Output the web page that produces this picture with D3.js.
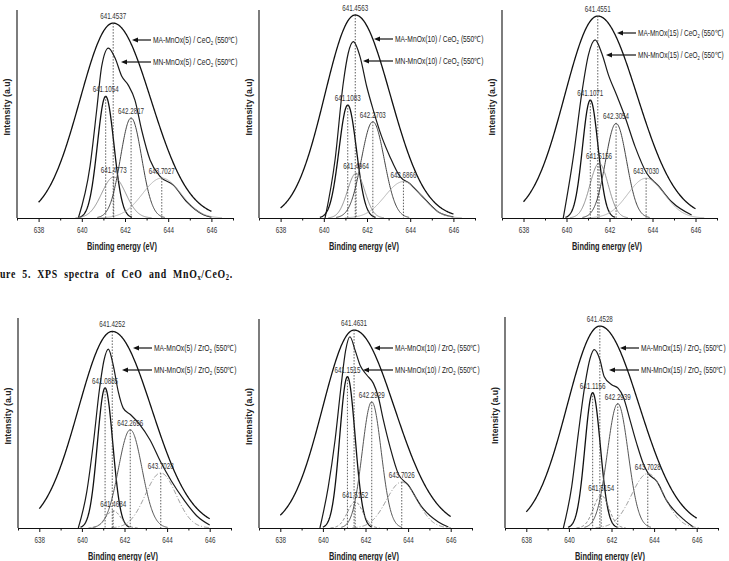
<!DOCTYPE html>
<html>
<head>
<meta charset="utf-8">
<script src="https://cdn.jsdelivr.net/npm/d3@7/dist/d3.min.js"></script>
<style>
  body { margin: 0; background: #fff; }
  svg { display: block; }
  text { font-family: "Liberation Sans", Arial, sans-serif; fill: #222; }
</style>
</head>
<body>
<svg id="chart" width="729" height="561"></svg>
<script>
// Sample names, one per panel (top row CeO2, bottom row ZrO2).
var loadings = ['5', '10', '15', '5', '10', '15'];
var supports = ['CeO', 'CeO', 'CeO', 'ZrO', 'ZrO', 'ZrO'];

// Binding energy axis.
var xDomain = [637, 647];
var majorTicks = [638, 640, 642, 644, 646];
var minorTicks = [637, 639, 641, 643, 645, 647];

// MA envelope: apex, height (% of axis), left / right width (sigma, eV).
var maCenter = [641.4537, 641.4563, 641.4551, 641.4252, 641.4631, 641.4528];
var maHeight = [93.7, 97.6, 97.1, 93.6, 94.7, 95.7];
var maSigmaLeft = [1.54, 1.41, 1.54, 1.59, 1.48, 1.535];
var maSigmaRight = [1.75, 1.62, 1.83, 1.85, 1.9, 1.85];

// MN envelope.
var mnEnergy = [
  [639.84, 640.38, 640.69, 640.92, 641.23, 641.54, 641.85, 642.15, 642.46, 642.77, 643.16, 643.62, 644.24, 644.86, 645.63, 646.0],
  [640.06, 640.52, 640.9, 641.13, 641.37, 641.68, 641.99, 642.29, 642.68, 643.06, 643.53, 643.99, 644.53, 645.3, 646.0],
  [639.85, 640.32, 640.71, 641.02, 641.33, 641.64, 641.95, 642.33, 642.72, 643.19, 643.73, 644.27, 644.89, 645.82],
  [639.83, 640.22, 640.54, 640.82, 641.04, 641.24, 641.47, 641.71, 641.94, 642.3, 642.7, 643.2, 643.7, 644.2, 644.8, 645.4, 646.0],
  [639.86, 640.25, 640.57, 640.85, 641.07, 641.27, 641.51, 641.74, 642.06, 642.37, 642.6, 642.84, 643.15, 643.54, 644.01, 644.64, 645.42, 645.89],
  [639.74, 640.13, 640.44, 640.76, 640.99, 641.19, 641.46, 641.66, 642.01, 642.32, 642.55, 642.87, 643.18, 643.49, 643.73, 644.12, 644.59, 645.45, 645.84]
];
var mnIntensity = [
  [0, 24.8, 51.9, 72.9, 81.7, 76.9, 68.1, 63.9, 56.7, 42.3, 27.9, 20.0, 15.8, 7.8, 1.6, 0.4],
  [0, 27.9, 64.8, 79.2, 84.8, 77.5, 63.1, 51.9, 39.1, 29.5, 19.9, 16.5, 10.7, 2.9, 0.5],
  [0, 29.5, 59.9, 78.4, 85.6, 79.2, 68.8, 59.1, 48.7, 34.3, 21.5, 15.5, 7.8, 1.4],
  [0, 16.7, 40.5, 65.7, 80.0, 85.2, 77.6, 64.8, 57.1, 53.8, 49.5, 41.9, 31.4, 22.4, 13.3, 5.7, 1.4],
  [0, 19.6, 42.0, 67.6, 85.1, 91.5, 85.1, 78.0, 73.2, 69.2, 62.8, 51.6, 38.8, 25.9, 20.5, 10.1, 2.9, 0.5],
  [0, 19.5, 44.6, 68.3, 80.2, 84.5, 79.6, 71.7, 67.9, 66.2, 62.2, 51.1, 40.1, 30.6, 25.8, 22.2, 13.0, 3.5, 0.5]
];

// Fitted components (Mn3+ low, Mn4+, Mn3+ high, satellite): position, height, FWHM.
var peakCenter = [
  [641.1054, 642.2817, 641.4773, 643.7027],
  [641.1083, 642.2703, 641.4964, 643.6866],
  [641.1071, 642.3054, 641.5156, 643.7030],
  [641.0885, 642.2696, 641.4684, 643.7028],
  [641.1515, 642.2929, 641.5152, 643.7026],
  [641.1156, 642.2939, 641.5154, 643.7028]
];
var peakHeight = [
  [58.5, 48.1, 19.7, 19.2],
  [54.3, 46.3, 21.5, 17.5],
  [56.7, 45.5, 26.3, 19.1],
  [66.7, 46.8, 8.2, 26.2],
  [72.4, 60.4, 12.5, 22.0],
  [64.1, 59.0, 15.5, 25.8]
];
var peakFwhm = [
  [0.9, 1.15, 1.3, 2.1],
  [0.95, 1.25, 0.95, 2.0],
  [0.85, 1.15, 1.0, 2.0],
  [0.85, 1.3, 0.85, 1.7],
  [0.85, 1.05, 0.85, 1.7],
  [0.85, 1.15, 0.85, 1.8]
];

// Panel frames on the page.
var frames = [
  { x: 17, top: 10, base: 218, perEv: 21.6, legendY: 30, legendW: 84 },
  { x: 259, top: 10, base: 218, perEv: 21.6, legendY: 29, legendW: 88 },
  { x: 502, top: 10, base: 218, perEv: 21.5, legendY: 23, legendW: 85 },
  { x: 18, top: 318, base: 528, perEv: 21.3, legendY: 30, legendW: 82 },
  { x: 259, top: 319, base: 528, perEv: 21.3, legendY: 29, legendW: 84 },
  { x: 505, top: 317, base: 528, perEv: 21.3, legendY: 31, legendW: 84 }
];

var topStyles = [
  { stroke: '#111', width: 1.3, dash: null },
  { stroke: '#444', width: 1, dash: null },
  { stroke: '#888', width: 0.9, dash: null },
  { stroke: '#aaa', width: 0.9, dash: null }
];
var bottomStyles = [
  { stroke: '#111', width: 1.3, dash: null },
  { stroke: '#555', width: 1, dash: null },
  { stroke: '#777', width: 0.9, dash: '3,2' },
  { stroke: '#888', width: 0.9, dash: '5,2,1,2' }
];

var svg = d3.select('#chart');

function gauss(e, c, h, s) {
  return h * Math.exp(-(e - c) * (e - c) / (2 * s * s));
}

// Squeeze a text horizontally (narrow face) about (ax, ay) to the given width.
function fit(t, w, ax, ay, pre) {
  var k = w / t.node().getComputedTextLength();
  t.attr('transform', (pre || '') + 'translate(' + ax + ',' + ay + ') scale(' + k + ',1) translate(' + (-ax) + ',' + (-ay) + ')');
}

frames.forEach(function (f, i) {
  var x = d3.scaleLinear().domain(xDomain).range([f.x, f.x + 10 * f.perEv]);
  var y = d3.scaleLinear().domain([0, 100]).range([f.base, f.top]);
  var g = svg.append('g');
  var line = d3.line()
    .x(function (d) { return x(d[0]); })
    .y(function (d) { return y(d[1]); });

  // MA envelope.
  var ma = d3.range(638, 646.001, 0.02).map(function (e) {
    var s = e < maCenter[i] ? maSigmaLeft[i] : maSigmaRight[i];
    return [e, gauss(e, maCenter[i], maHeight[i], s)];
  });
  g.append('path')
    .attr('d', line(ma))
    .style('fill', 'none')
    .style('stroke', '#111')
    .style('stroke-width', 1.3);

  // MN envelope.
  var mn = mnEnergy[i].map(function (e, k) { return [e, mnIntensity[i][k]]; });
  g.append('path')
    .attr('d', line.curve(d3.curveMonotoneX)(mn))
    .style('fill', 'none')
    .style('stroke', '#1a1a1a')
    .style('stroke-width', 1.2);
  line.curve(d3.curveLinear);

  // Components.
  var styles = i < 3 ? topStyles : bottomStyles;
  peakCenter[i].forEach(function (c, k) {
    var s = peakFwhm[i][k] / 2.3548;
    var pts = d3.range(Math.max(638, c - 3.2 * s), Math.min(646.5, c + 3.2 * s), 0.02).map(function (e) {
      return [e, gauss(e, c, peakHeight[i][k], s)];
    });
    g.append('path')
      .attr('d', line(pts))
      .style('fill', 'none')
      .style('stroke', styles[k].stroke)
      .style('stroke-width', styles[k].width)
      .style('stroke-dasharray', styles[k].dash);
  });

  // Dotted drop lines and peak labels.
  var marks = [[maCenter[i], maHeight[i]]].concat(peakCenter[i].map(function (c, k) {
    return [c, peakHeight[i][k]];
  }));
  marks.forEach(function (m) {
    g.append('line')
      .attr('x1', x(m[0])).attr('x2', x(m[0]))
      .attr('y1', y(m[1])).attr('y2', f.base)
      .style('stroke', '#333')
      .style('stroke-width', 0.8)
      .style('stroke-dasharray', '1.5,1.5');
    var t = g.append('text')
      .attr('x', x(m[0]))
      .attr('y', y(m[1]) - 4)
      .attr('text-anchor', 'middle')
      .style('font-size', '8.5px')
      .style('fill', '#333')
      .text(m[0].toFixed(4));
    fit(t, 26, x(m[0]), 0);
  });

  // Axes.
  var major = d3.axisBottom(x).tickValues(majorTicks).tickSize(4).tickPadding(5).tickSizeOuter(0)
    .tickFormat(d3.format('d'));
  var minor = d3.axisBottom(x).tickValues(minorTicks).tickSize(2.5).tickSizeOuter(0).tickFormat('');
  var ax = g.append('g').attr('transform', 'translate(0,' + f.base + ')').call(major);
  g.append('g').attr('transform', 'translate(0,' + f.base + ')').call(minor)
    .select('.domain').remove();
  ax.selectAll('text')
    .style('font-size', '8.5px')
    .style('fill', '#333')
    .attr('font-family', null)
    .each(function () { fit(d3.select(this), 10.5, 0, 0); });
  ax.selectAll('line, path').style('stroke', '#111');
  g.selectAll('.tick line').style('stroke', '#111');

  g.append('line')
    .attr('x1', f.x).attr('x2', f.x)
    .attr('y1', f.top).attr('y2', f.base)
    .style('stroke', '#111')
    .style('stroke-width', 1.1);

  var xt = g.append('text')
    .attr('x', f.x + 105)
    .attr('y', f.base + 32)
    .attr('text-anchor', 'middle')
    .style('font-size', '10px')
    .style('font-weight', 'bold')
    .text('Binding energy (eV)');
  fit(xt, 70, f.x + 105, 0);

  var yt = g.append('text')
    .attr('x', 0)
    .attr('y', 0)
    .attr('text-anchor', 'middle')
    .style('font-size', '9.5px')
    .style('font-weight', 'bold')
    .text('Intensity (a.u)');
  fit(yt, 57, 0, 0, 'translate(' + (f.x - 7.5) + ',' + ((f.top + f.base) / 2 - 7) + ') rotate(-90) ');

  // Legend arrows.
  [['MA', f.legendY, 115], ['MN', f.legendY + 22, 104]].forEach(function (l) {
    var ly = f.top + l[1];
    var head = f.x + l[2];
    var tx = f.x + 136;
    g.append('path')
      .attr('d', 'M' + head + ',' + ly + 'l6,-2.4l0,4.8z')
      .style('fill', '#111');
    g.append('line')
      .attr('x1', head + 5).attr('x2', tx - 2)
      .attr('y1', ly).attr('y2', ly)
      .style('stroke', '#111')
      .style('stroke-width', 1.2);
    var t = g.append('text')
      .attr('x', tx)
      .attr('y', ly + 3)
      .style('font-size', '8.5px');
    t.append('tspan').text(l[0] + '-MnOx(' + loadings[i] + ') / ' + supports[i]);
    t.append('tspan').attr('dy', 2).style('font-size', '5.5px').text('2');
    t.append('tspan').attr('dy', -2).text(' (550\u2103)');
    fit(t, f.legendW, tx, 0);
  });
});

// Caption (cut at the left edge in the source).
var cap = svg.append('text')
  .attr('x', 0)
  .attr('y', 278)
  .style('font-family', '"Liberation Serif", "Times New Roman", serif')
  .style('font-weight', 'bold')
  .style('font-size', '12px')
  .style('letter-spacing', '0.8px')
  .style('word-spacing', '4px')
  .style('fill', '#111');
cap.append('tspan').text('ure 5. XPS spectra of CeO and MnO');
cap.append('tspan').attr('dy', 2).style('font-size', '8px').text('x');
cap.append('tspan').attr('dy', -2).text('/CeO');
cap.append('tspan').attr('dy', 2).style('font-size', '8px').text('2');
cap.append('tspan').attr('dy', -2).text('.');
fit(cap, 233, 0, 0);
</script>
</body>
</html>
